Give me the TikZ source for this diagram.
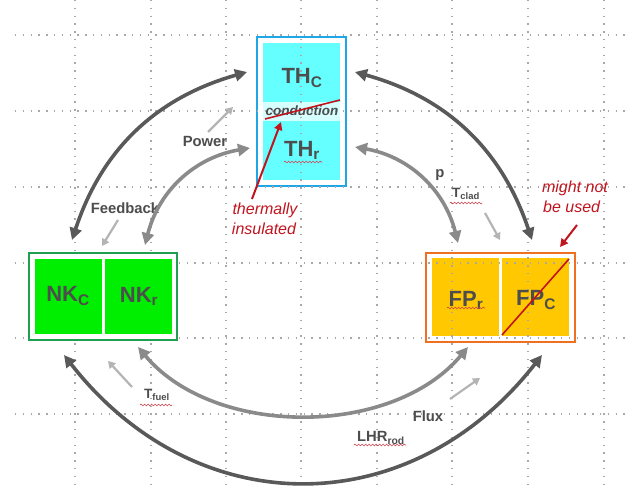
\documentclass[tikz,border=0pt]{standalone}
\usepackage{fontspec}
\setmainfont{Liberation Sans}
\usetikzlibrary{arrows.meta,decorations.pathmorphing}
\definecolor{gridc}{HTML}{A8A8A8}
\definecolor{darkarr}{HTML}{595959}
\definecolor{midarr}{HTML}{8A8A8A}
\definecolor{lightarr}{HTML}{B4B4B4}
\definecolor{txtc}{HTML}{4D4D4D}
\definecolor{redc}{HTML}{C0141E}
\definecolor{thborder}{HTML}{1EA6E6}
\definecolor{thfill}{HTML}{66FFFF}
\definecolor{thband}{HTML}{D6FFFF}
\definecolor{nkborder}{HTML}{1FA050}
\definecolor{nkfill}{HTML}{00EE00}
\definecolor{fpborder}{HTML}{F07022}
\definecolor{fpfill}{HTML}{FFC800}
\begin{document}
\begin{tikzpicture}[x=1pt,y=1pt,
  gridline/.style={gridc,line width=1.4pt,dash pattern=on 1.4pt off 6.4pt},
  outerbox/.style={draw=#1,line width=2.6pt,fill=white,inner sep=0pt},
  cell/.style={fill=#1,draw=none,inner sep=0pt},
  bigtxt/.style={text=txtc,font=\fontsize{22}{25}\selectfont\bfseries},
  lbl/.style={text=txtc,font=\fontsize{14.8}{17}\selectfont\bfseries,inner sep=1pt},
  redtxt/.style={text=redc,font=\fontsize{16}{19}\selectfont\itshape,inner sep=1pt},
  darkline/.style={darkarr,line width=3.6pt,{Triangle[length=12pt,width=12pt]}-{Triangle[length=12pt,width=12pt]}},
  midline/.style={midarr,line width=3.6pt,{Triangle[length=12pt,width=12pt]}-{Triangle[length=12pt,width=12pt]}},
  lightline/.style={lightarr,line width=2.2pt,-{Triangle[length=7pt,width=8pt]}},
  redline/.style={redc,line width=2pt,-{Triangle[length=8pt,width=8pt]}},
  wavy/.style={redc!80,line width=0.6pt,decorate,decoration={snake,segment length=3.5pt,amplitude=0.9pt}}]
\useasboundingbox (0,0) rectangle (626,486);
\fill[white] (0,0) rectangle (626,486);

% TH box
\node[outerbox=thborder,minimum width=89pt,minimum height=149pt] (th) at (301.5,374.5) {};
\node[cell=thfill,minimum width=77pt,minimum height=59pt] (thc) at (301.5,413.5) {};
\node[cell=thband,minimum width=77pt,minimum height=19pt] (band) at (301.5,374.5) {};
\node[cell=thfill,minimum width=77pt,minimum height=59pt] (thr) at (301.5,335.5) {};

% FP box
\node[outerbox=fpborder,minimum width=149pt,minimum height=89pt] (fp) at (500.5,188.5) {};
\node[cell=fpfill,minimum width=67pt,minimum height=78pt] (fpr) at (465.5,189) {};
\node[cell=fpfill,minimum width=67pt,minimum height=78pt] (fpc) at (535.5,189) {};

% grid
\foreach \x in {75,151,226,301,377,452,528,604} \draw[gridline] (\x,486) -- (\x,0);
\foreach \y in {451,375,299,223,148,72} \draw[gridline] (15,\y) -- (626,\y);

% NK box
\node[outerbox=nkborder,minimum width=148pt,minimum height=87pt] (nk) at (103,189.5) {};
\node[cell=nkfill,minimum width=67pt,minimum height=75pt] (nkc) at (68.5,189.5) {};
\node[cell=nkfill,minimum width=67pt,minimum height=75pt] (nkr) at (138.5,189.5) {};

% box texts
\node[bigtxt] (thct) at (302,408) {TH\textsubscript{C}};
\node[bigtxt] (thrt) at (302,336) {TH\textsubscript{r}};
\node[text=txtc,font=\fontsize{13.5}{15}\selectfont\bfseries\itshape] (cond) at (302,375) {conduction};
\node[bigtxt] (nkct) at (68,190) {NK\textsubscript{C}};
\node[bigtxt] (nkrt) at (139,190) {NK\textsubscript{r}};
\node[bigtxt] (fprt) at (466,186) {FP\textsubscript{r}};
\node[bigtxt] (fpct) at (536,186) {FP\textsubscript{C}};

% red strike lines
\draw[redc,line width=1.6pt] (265,367) -- (340,386);
\draw[redc,line width=1.6pt] (502,151) -- (569,227);

% labels
\node[lbl] (feedback) at (125,278) {Feedback};
\node[lbl] (power) at (205,345) {Power};
\node[lbl] (p) at (440,311) {p};
\node[lbl,font=\fontsize{13.5}{15}\selectfont\bfseries] (tclad) at (466,292) {T\textsubscript{clad}};
\node[lbl,font=\fontsize{13.5}{15}\selectfont\bfseries] (tfuel) at (157,91) {T\textsubscript{fuel}};
\node[lbl] (flux) at (428,70) {Flux};
\node[lbl] (lhr) at (381,48) {LHR\textsubscript{rod}};
\node[redtxt] (therm) at (265,276) {thermally};
\node[redtxt] (insul) at (264,257) {insulated};
\node[redtxt] (might) at (575,298) {might not};
\node[redtxt,anchor=west] (used) at (542,279) {be used};

% wavy underlines
\draw[wavy] (284,324) -- (322,324);
\draw[wavy] (447,178) -- (485,178);
\draw[wavy] (450,283) -- (482,283);
\draw[wavy] (140,81) -- (172,81);
\draw[wavy] (354,41) -- (406,41);

% connector end points
\coordinate (nkTL) at (72,246);
\coordinate (thLT) at (247,414);
\coordinate (nkTR) at (145,241);
\coordinate (thLB) at (250,338);
\coordinate (thRT) at (355,414);
\coordinate (fpTR) at (532,246);
\coordinate (thRB) at (355,339);
\coordinate (fpTL) at (458,243);
\coordinate (nkBL) at (64,131);
\coordinate (fpBR) at (542,131);
\coordinate (nkBR) at (138,139);
\coordinate (fpBL) at (468,139);

\draw[darkline] (nkTL) to[bend left=28] (thLT);
\draw[midline] (nkTR) to[bend left=33] (thLB);
\draw[darkline] (thRT) to[bend left=28] (fpTR);
\draw[midline] (thRB) to[bend left=33] (fpTL);
\draw[darkline] (nkBL) to[out=-52,in=-128,looseness=1.15] (fpBR);
\draw[midline] (nkBR) to[out=-50,in=-130,looseness=0.92] (fpBL);

% small arrows
\coordinate (fbS) at (118,266); \coordinate (fbE) at (102,240);
\coordinate (pwS) at (208,354); \coordinate (pwE) at (233,379);
\coordinate (tcS) at (485,273); \coordinate (tcE) at (500,246);
\coordinate (tfS) at (132,99);  \coordinate (tfE) at (108,125);
\coordinate (flS) at (450,87);  \coordinate (flE) at (480,108);
\draw[lightline] (fbS) -- (fbE);
\draw[lightline] (pwS) -- (pwE);
\draw[lightline] (tcS) -- (tcE);
\draw[lightline] (tfS) -- (tfE);
\draw[lightline] (flS) -- (flE);

% red arrows
\coordinate (insS) at (252,287); \coordinate (insE) at (281,364);
\coordinate (mnS) at (577,261); \coordinate (mnE) at (560,239);
\draw[redline] (insS) -- (insE);
\draw[redline] (mnS) -- (mnE);
\end{tikzpicture}
\end{document}
